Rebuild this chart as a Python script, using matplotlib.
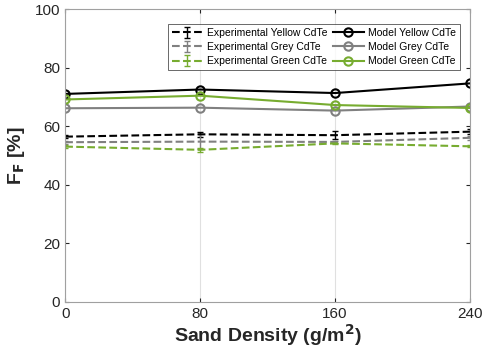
import matplotlib
matplotlib.use('Agg')
from matplotlib import pyplot as plt
import numpy as np

density = [0, 80, 160, 240]

exp_yellow = [56.4, 57.2, 56.9, 58.1]
exp_yellow_err = [0.6, 0.8, 1.3, 0.8]
exp_grey = [54.5, 54.7, 54.6, 56.0]
exp_grey_err = [0.5, 2.6, 0.4, 0.7]
exp_green = [53.0, 51.9, 54.1, 53.1]
exp_green_err = [0.4, 0.7, 0.3, 0.4]

model_yellow = [71.0, 72.5, 71.3, 74.6]
model_grey = [66.1, 66.3, 65.3, 66.7]
model_green = [69.1, 70.4, 67.2, 66.2]

black = '#000000'
grey = '#808080'
green = '#77AC30'

plt.rcParams['font.family'] = 'Liberation Sans'

fig = plt.figure(figsize=(4.83, 3.48), dpi=100)
ax = fig.add_axes([0.135, 0.133, 0.838, 0.841])

h = []
h.append(ax.errorbar(density, exp_yellow, yerr=exp_yellow_err, color=black, ls='--', lw=1.5,
                     capsize=2.5, elinewidth=1, label='Experimental Yellow CdTe'))
h.append(ax.errorbar(density, exp_grey, yerr=exp_grey_err, color=grey, ls='--', lw=1.5,
                     capsize=2.5, elinewidth=1, label='Experimental Grey CdTe'))
h.append(ax.errorbar(density, exp_green, yerr=exp_green_err, color=green, ls='--', lw=1.5,
                     capsize=2.5, elinewidth=1, label='Experimental Green CdTe'))
h += ax.plot(density, model_yellow, color=black, lw=1.5, marker='o', ms=6, mfc='none',
             mew=1.5, label='Model Yellow CdTe')
h += ax.plot(density, model_grey, color=grey, lw=1.5, marker='o', ms=6, mfc='none',
             mew=1.5, label='Model Grey CdTe')
h += ax.plot(density, model_green, color=green, lw=1.5, marker='o', ms=6, mfc='none',
             mew=1.5, label='Model Green CdTe')

ax.set_xlim(0, 240)
ax.set_ylim(0, 100)
ax.set_xticks(density)
ax.set_yticks([0, 20, 40, 60, 80, 100])
ax.xaxis.grid(True, color='#e0e0e0', lw=0.8)
ax.set_axisbelow(True)
ax.tick_params(direction='in', length=3, colors='#262626', labelsize=11,
               top=True, right=True)
for s in ax.spines.values():
    s.set_color('#a0a0a0')
    s.set_linewidth(0.8)

ax.set_xlabel('Sand Density (g/m$^\\mathbf{2}$)', fontsize=14, fontweight='bold',
              color='#262626', labelpad=1)
ax.set_ylabel('F$_\\mathbf{F}$ [%]', fontsize=14, fontweight='bold', color='#262626',
              labelpad=6)

leg = ax.legend(handles=h, ncol=2, loc='upper right', bbox_to_anchor=(0.98, 0.955),
                fontsize=7.5, frameon=True, fancybox=False, edgecolor='#262626',
                handlelength=3.0, columnspacing=0.5, handletextpad=0.4,
                labelspacing=0.4, borderpad=0.35, borderaxespad=0.2)
leg.get_frame().set_linewidth(0.6)

fig.savefig('out.png', dpi=100)
